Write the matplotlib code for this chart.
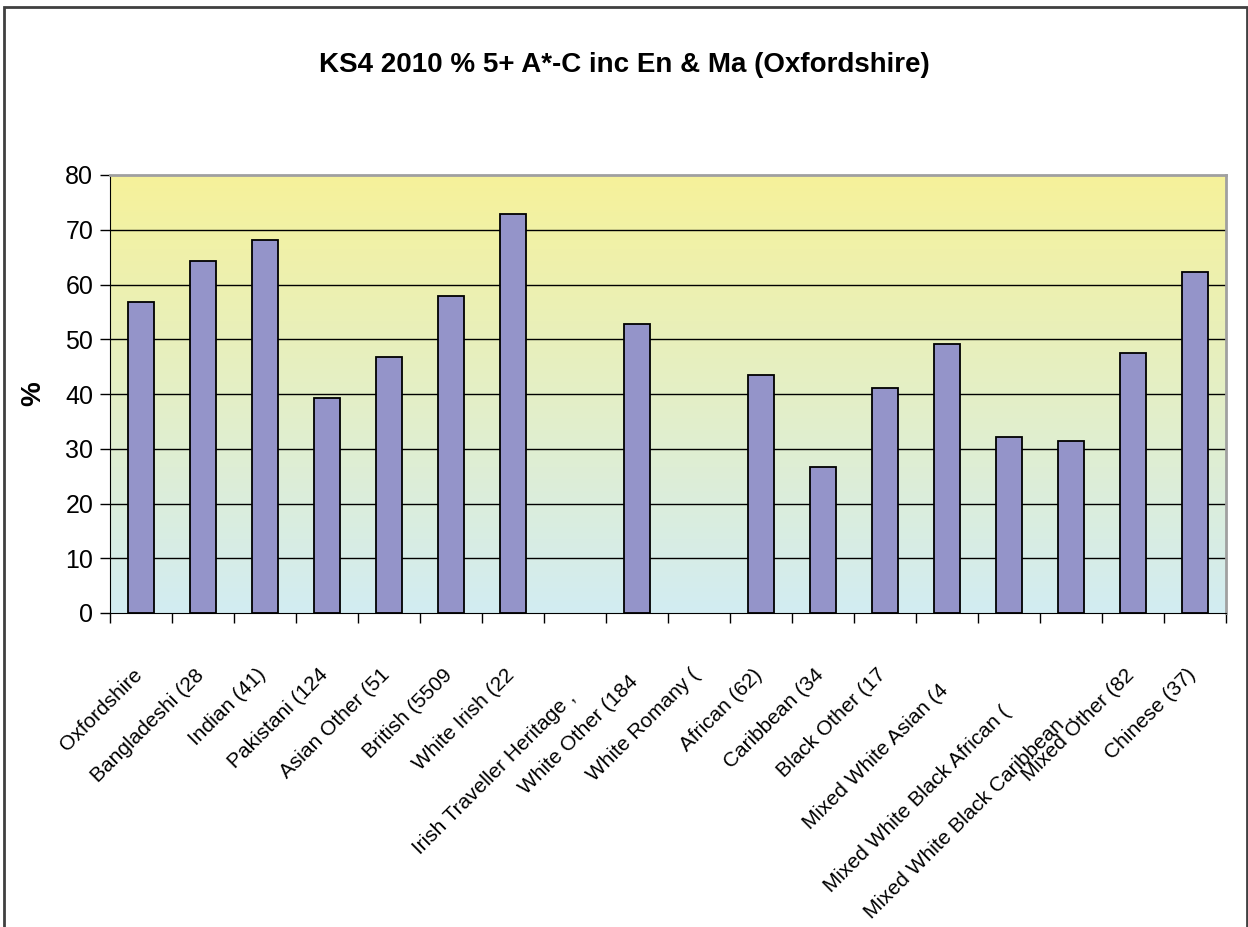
import numpy as np
import matplotlib
matplotlib.use('Agg')
import matplotlib.pyplot as plt
import matplotlib.transforms as mtransforms
from matplotlib.colors import LinearSegmentedColormap
from matplotlib.patches import Rectangle

plt.rcParams['font.family'] = ['Liberation Sans', 'DejaVu Sans']

title = 'KS4 2010 % 5+ A*-C inc En & Ma (Oxfordshire)'
categories = ['Oxfordshire', 'Bangladeshi (28', 'Indian (41)', 'Pakistani (124',
              'Asian Other (51', 'British (5509', 'White Irish (22',
              'Irish Traveller Heritage ,', 'White Other (184', 'White Romany (',
              'African (62)', 'Caribbean (34', 'Black Other (17',
              'Mixed White Asian (4', 'Mixed White Black African (',
              'Mixed White Black Caribbean ,', 'Mixed Other (82', 'Chinese (37)']
values = [56.8, 64.3, 68.1, 39.3, 46.8, 57.9, 72.9, np.nan, 52.8, np.nan,
          43.5, 26.7, 41.1, 49.1, 32.1, 31.4, 47.5, 62.3]
yticks = [0, 10, 20, 30, 40, 50, 60, 70, 80]

W, H = 1248, 927
fig = plt.figure(figsize=(W / 100, H / 100), dpi=100)
# outer chart frame
fig.add_artist(Rectangle((4 / W, -0.01), (W - 5) / W, (H - 7) / H + 0.01,
                         transform=fig.transFigure, fill=False,
                         edgecolor='#404040', lw=2))

ax = fig.add_axes([110 / W, 1 - 613 / H, (1226 - 110) / W, (613 - 175) / H])
n = len(categories)
x = np.arange(n)

# gradient plot area
grad = LinearSegmentedColormap.from_list('bg', ['#d2ecf2', '#f6f29a'])
ax.imshow(np.linspace(0, 1, 256).reshape(-1, 1), cmap=grad, origin='lower',
          aspect='auto', extent=[-0.5, n - 0.5, 0, 80], zorder=0)

for y in yticks[1:-1]:
    ax.axhline(y, color='black', lw=1, zorder=1)

ax.bar(x, values, width=0.42, color='#9494c9', edgecolor='black', lw=1.3, zorder=2)

ax.set_xlim(-0.5, n - 0.5)
ax.set_ylim(0, 80)
ax.set_yticks(yticks)
ax.tick_params(axis='y', direction='out', length=7, width=1, labelsize=18, pad=5)
ax.set_xticks(np.arange(n + 1) - 0.5)
ax.set_xticklabels([])
ax.tick_params(axis='x', direction='out', length=7, width=1)
ax.spines['left'].set_color('black')
ax.spines['bottom'].set_color('black')
ax.spines['top'].set_color('#a0a0a0')
ax.spines['right'].set_color('#a0a0a0')
ax.spines['top'].set_linewidth(2)
ax.spines['right'].set_linewidth(2)
ax.set_ylabel('%', fontsize=20, fontweight='bold', labelpad=14)

# rotated category labels, some pushed lower like the original
drops = [0, 0, 0, 0, 0, 0, 0, 23, 7, 0, 0, 0, 0, 15, 37, 42, 0, 0]
for i, (lab, d) in enumerate(zip(categories, drops)):
    tr = mtransforms.offset_copy(ax.get_xaxis_transform(), fig=fig,
                                 x=-2, y=-(59 + d), units='dots')
    ax.text(i, 0, lab, transform=tr, rotation=45, rotation_mode='anchor',
            ha='right', va='center', fontsize=15)

fig.text(0.5, 1 - 65 / H, title, ha='center', va='center',
         fontsize=20, fontweight='bold')

fig.savefig('out.png', dpi=100)
